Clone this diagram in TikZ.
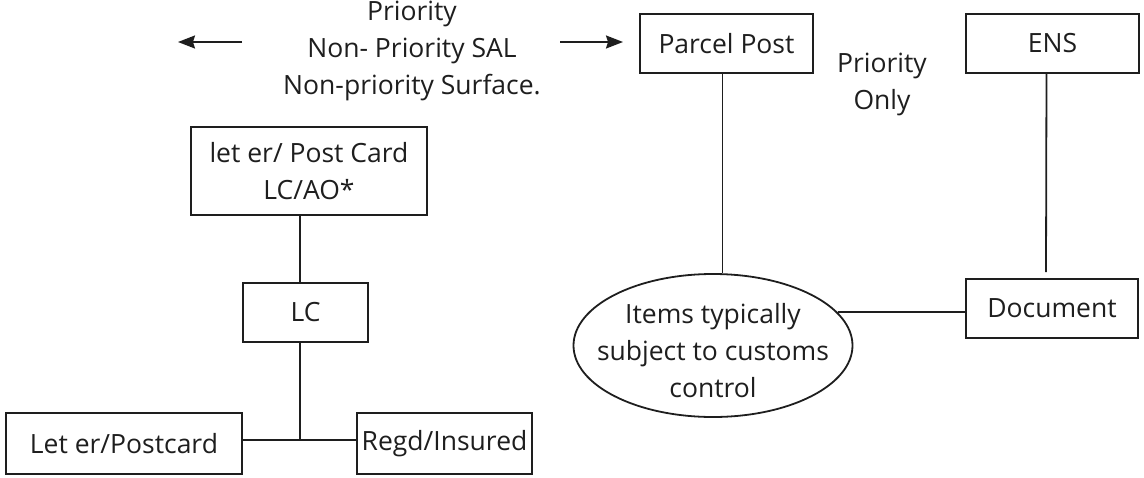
\documentclass[tikz,border=0pt]{standalone}
\usepackage{fontspec}
\setmainfont{Open Sans}
\usetikzlibrary{arrows.meta,shapes.geometric}
\definecolor{ink}{HTML}{1E1E1E}
\newcommand{\diafont}{\fontsize{26.5}{37}\selectfont}
\tikzset{
	box/.style={draw=ink, line width=1.8pt, inner sep=0pt, align=center, text=ink, font=\diafont},
	oval/.style={box, ellipse},
	label/.style={inner sep=0pt, align=center, text=ink, font=\diafont},
	conn/.style={draw=ink, line width=1.8pt},
	arr/.style={conn, -{Stealth[length=17pt, width=13pt, inset=2pt]}}
}
\begin{document}
\begin{tikzpicture}[x=1pt, y=-1pt]
		%%%%% START %%%%%
		\useasboundingbox (0, 0) rectangle (1144, 477);
		
		% mail classes and arrows
		\node[label, anchor=north] (prio) at (412, 1) {Priority\\Non- Priority SAL\\Non-priority Surface.};
		\coordinate (la) at (242, 42);
		\coordinate (lb) at (178, 42);
		\coordinate (ra) at (560, 42);
		\coordinate (rb) at (623, 42);
		\draw[arr] (la) -- (lb);
		\draw[arr] (ra) -- (rb);
		
		% left tree
		\node[box, minimum width=236pt, minimum height=88pt] (lcao) at (309, 171) {let er/ Post Card\\LC/AO*};
		\node[box, minimum width=125pt, minimum height=59pt] (lc) at (305.5, 312.5) {LC};
		\node[box, minimum width=236pt, minimum height=61pt] (letpc) at (124, 443.5) {Let er/Postcard};
		\node[box, minimum width=175pt, minimum height=61pt] (regd) at (444.5, 443.5) {Regd/Insured};
		
		\coordinate (jn) at (300, 440);
		\draw[conn] (lcao.south -| jn) -- (lc.north -| jn);
		\draw[conn] (lc.south -| jn) -- (jn);
		\draw[conn] (letpc.east |- jn) -- (regd.west |- jn);
		
		% right tree
		\node[box, minimum width=173pt, minimum height=59pt] (parcel) at (726.5, 43.5) {Parcel Post};
		\node[label, anchor=north] (only) at (882, 53) {Priority\\Only};
		\node[box, minimum width=173pt, minimum height=59pt] (ens) at (1052.5, 43.5) {ENS};
		\node[box, minimum width=172pt, minimum height=59pt] (doc) at (1052, 308.5) {Document};
		\node[oval, minimum width=279pt, minimum height=143pt] (items) at (713, 345.5) {};
		\node[label] (itemstxt) at (713, 351) {Items typically\\subject to customs\\control};
		
		\draw[conn] ([xshift=-4pt]parcel.south) -- ([xshift=-4pt]parcel.south |- items.north);
		\draw[conn] ([xshift=-6pt]ens.south) -- ([xshift=-6pt, yshift=6pt]doc.north);
		\draw[conn] (items.15) -- (items.15 -| doc.west);
		
		%%%%% END %%%%%
	\end{tikzpicture}
\end{document}
